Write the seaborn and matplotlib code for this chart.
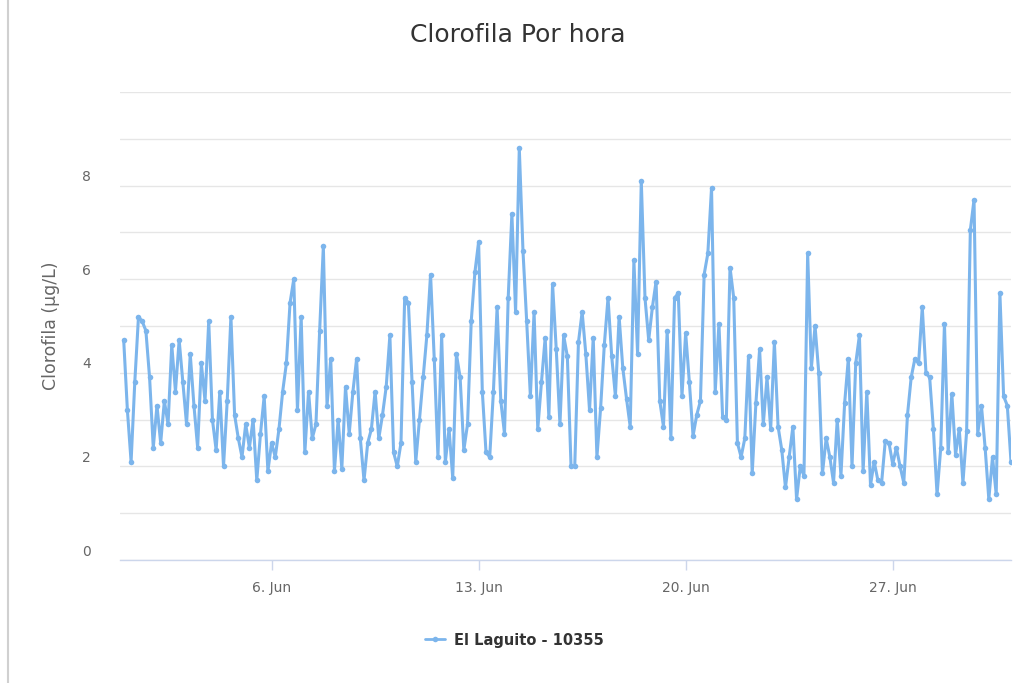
import pandas as pd
import matplotlib
matplotlib.use('Agg')
import matplotlib.pyplot as plt
import matplotlib.transforms as mtransforms
from matplotlib.lines import Line2D
import seaborn as sns

title = 'Clorofila Por hora'
y_label = 'Clorofila (µg/L)'
series_name = 'El Laguito - 10355'

# readings every 3 hours, starting 1 Jun 00:00 (one row = one day)
start = '2019-06-01 00:00'
step = '3h'
clorofila = [
    4.7, 3.2, 2.1, 3.8, 5.2, 5.1, 4.9, 3.9,
    2.4, 3.3, 2.5, 3.4, 2.9, 4.6, 3.6, 4.7,
    3.8, 2.9, 4.4, 3.3, 2.4, 4.2, 3.4, 5.1,
    3.0, 2.35, 3.6, 2.0, 3.4, 5.2, 3.1, 2.6,
    2.2, 2.9, 2.4, 3.0, 1.7, 2.7, 3.5, 1.9,
    2.5, 2.2, 2.8, 3.6, 4.2, 5.5, 6.0, 3.2,
    5.2, 2.3, 3.6, 2.6, 2.9, 4.9, 6.7, 3.3,
    4.3, 1.9, 3.0, 1.95, 3.7, 2.7, 3.6, 4.3,
    2.6, 1.7, 2.5, 2.8, 3.6, 2.6, 3.1, 3.7,
    4.8, 2.3, 2.0, 2.5, 5.6, 5.5, 3.8, 2.1,
    3.0, 3.9, 4.8, 6.1, 4.3, 2.2, 4.8, 2.1,
    2.8, 1.75, 4.4, 3.9, 2.35, 2.9, 5.1, 6.15,
    6.8, 3.6, 2.3, 2.2, 3.6, 5.4, 3.4, 2.7,
    5.6, 7.4, 5.3, 8.8, 6.6, 5.1, 3.5, 5.3,
    2.8, 3.8, 4.75, 3.05, 5.9, 4.5, 2.9, 4.8,
    4.35, 2.0, 2.0, 4.65, 5.3, 4.4, 3.2, 4.75,
    2.2, 3.25, 4.6, 5.6, 4.35, 3.5, 5.2, 4.1,
    3.45, 2.85, 6.4, 4.4, 8.1, 5.6, 4.7, 5.4,
    5.95, 3.4, 2.85, 4.9, 2.6, 5.6, 5.7, 3.5,
    4.85, 3.8, 2.65, 3.1, 3.4, 6.1, 6.55, 7.95,
    3.6, 5.05, 3.05, 3.0, 6.25, 5.6, 2.5, 2.2,
    2.6, 4.35, 1.85, 3.35, 4.5, 2.9, 3.9, 2.8,
    4.65, 2.85, 2.35, 1.55, 2.2, 2.85, 1.3, 2.0,
    1.8, 6.55, 4.1, 5.0, 4.0, 1.85, 2.6, 2.2,
    1.65, 3.0, 1.8, 3.35, 4.3, 2.0, 4.2, 4.8,
    1.9, 3.6, 1.6, 2.1, 1.7, 1.65, 2.55, 2.5,
    2.05, 2.4, 2.0, 1.65, 3.1, 3.9, 4.3, 4.2,
    5.4, 4.0, 3.9, 2.8, 1.4, 2.4, 5.05, 2.3,
    3.55, 2.25, 2.8, 1.65, 2.75, 7.05, 7.7, 2.7,
    3.3, 2.4, 1.3, 2.2, 1.4, 5.7, 3.5, 3.3,
    2.1,
]

tick_dates = ['2019-06-06', '2019-06-13', '2019-06-20', '2019-06-27']
tick_labels = ['6. Jun', '13. Jun', '20. Jun', '27. Jun']
y_ticks = [0, 1, 2, 3, 4, 5, 6, 7, 8, 9, 10]
y_tick_labels = ['0', '', '2', '', '4', '', '6', '', '8', '', '']

df = pd.DataFrame({
    'fecha': pd.date_range(start, periods=len(clorofila), freq=step),
    'valor': clorofila,
})

sns.set_theme(style='white')
plt.rcParams['font.family'] = ['DejaVu Sans']

line_color = '#7cb5ec'

fig = plt.figure(figsize=(10.14, 6.83), dpi=100)
ax = fig.add_axes([120/1014, 123/683, 891/1014, 468/683])

sns.lineplot(data=df, x='fecha', y='valor', ax=ax, color=line_color,
             linewidth=2.2, marker='o', markersize=4, markeredgewidth=0,
             legend=False)

ax.set_xlim(pd.Timestamp('2019-05-31 21:00'), pd.Timestamp('2019-07-01 00:00'))
ax.set_ylim(0, 10)

ax.set_yticks(y_ticks)
ax.set_yticklabels(y_tick_labels)
ax.grid(axis='y', color='#e6e6e6', linewidth=1)
ax.grid(axis='x', visible=False)
ax.tick_params(axis='y', length=0, pad=21, labelsize=10, labelcolor='#666666')
# labels sit a little above their grid lines
for lbl in ax.get_yticklabels():
    lbl.set_transform(lbl.get_transform() + mtransforms.ScaledTranslation(0, 10/100, fig.dpi_scale_trans))

ax.set_xticks(pd.to_datetime(tick_dates))
ax.set_xticklabels(tick_labels)
ax.tick_params(axis='x', direction='out', length=7, width=1, color='#ccd6eb',
               pad=8, labelsize=10, labelcolor='#666666')
ax.xaxis.set_ticks_position('bottom')

for side in ['left', 'right', 'top']:
    ax.spines[side].set_visible(False)
ax.spines['bottom'].set_color('#ccd6eb')
ax.spines['bottom'].set_linewidth(1)

ax.set_xlabel('')
ax.set_ylabel(y_label, fontsize=12.5, color='#666666', labelpad=16)

fig.text(518/1014, 1 - 35/683, title, ha='center', va='center',
         fontsize=18, color='#333333')

handle = Line2D([], [], color=line_color, linewidth=2, marker='o', markersize=4,
                markeredgewidth=0)
fig.legend([handle], [series_name], loc='center', bbox_to_anchor=(514/1014, 1 - 640/683),
           frameon=False, handlelength=1.4, handletextpad=0.6,
           prop={'weight': 'bold', 'size': 10.5})
for t in fig.legends[0].get_texts():
    t.set_color('#333333')

# thin frame line at the left edge of the screenshot
fig.add_artist(Line2D([8/1014, 8/1014], [0, 1], color='#d0d0d0', linewidth=1.5,
                      transform=fig.transFigure))

fig.savefig('out.png', dpi=100, facecolor='white')
